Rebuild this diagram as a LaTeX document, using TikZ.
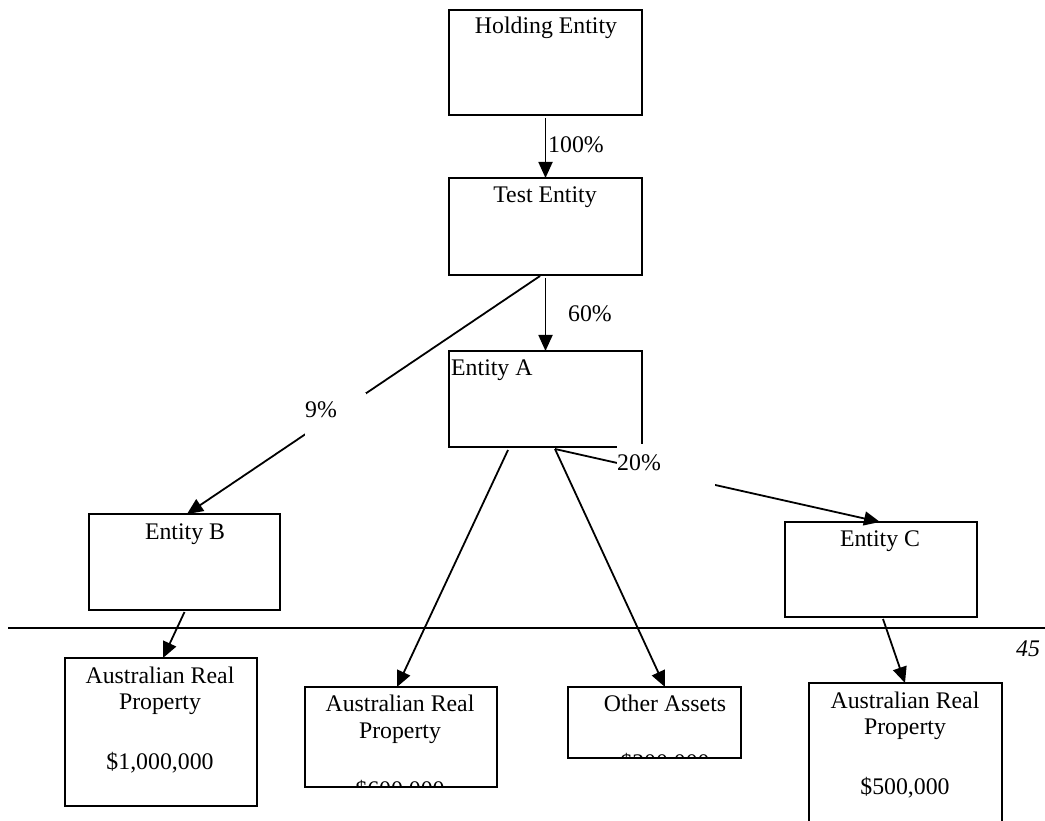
\documentclass[tikz,border=0pt]{standalone}
\usepackage{fontspec}
\setmainfont{Liberation Serif}
\usetikzlibrary{arrows.meta,calc}
\begin{document}
\begin{tikzpicture}[x=1pt,y=-1pt,
  box/.style={draw,line width=1.8pt,inner sep=0pt,outer sep=0pt,anchor=north west},
  txt/.style={font=\fontsize{23.8}{27}\selectfont,inner sep=0pt,anchor=base},
  txtl/.style={txt,anchor=base west},
  arr/.style={line width=1.8pt,-{Triangle[length=16pt,width=14pt]}},
  conn/.style={line width=1.8pt},
  patch/.style={fill=white,inner sep=0pt,outer sep=0pt,anchor=north west}]
\clip (0,0) rectangle (1045,821);
\fill[white] (0,0) rectangle (1045,821);

% page rule
\coordinate (ruleL) at (8,628);
\coordinate (ruleR) at (1046,628);
\draw[conn] (ruleL) -- (ruleR);
\node[txt,font=\fontsize{23.8}{27}\selectfont\itshape] (pg) at (1028,656) {45};

% boxes
\node[box,minimum width=193pt,minimum height=105pt] (hold) at (449,10) {};
\node[box,minimum width=193pt,minimum height=97pt] (test) at (449,178) {};
\node[box,minimum width=193pt,minimum height=96pt] (entA) at (449,351) {};
\node[box,minimum width=191pt,minimum height=96pt] (entB) at (89,514) {};
\node[box,minimum width=192pt,minimum height=95pt] (entC) at (785,522) {};
\node[box,minimum width=192pt,minimum height=148pt] (arp1) at (65,658) {};
\node[box,minimum width=173pt,minimum height=71pt] (other) at (568,687) {};
\node[box,minimum width=192pt,minimum height=100pt] (arp2) at (305,687) {};
\node[box,minimum width=193pt,minimum height=170pt] (arp3) at (809,683) {};

% texts
\node[txt] (tHold) at (546,34) {Holding Entity};
\node[txt] (tTest) at (545,203) {Test Entity};
\node[txtl] (tA) at (451,375) {Entity A};
\node[txt] (tB) at (185,539) {Entity B};
\node[txt] (tC) at (880,546) {Entity C};
\node[txt] (t1a) at (160,683) {Australian Real};
\node[txt] (t1b) at (160,709) {Property};
\node[txt] (t1c) at (160,769) {\$1,000,000};
\begin{scope}
  \clip (arp2.north west) rectangle (arp2.south east);
  \node[txt] (t2a) at (400,711) {Australian Real};
  \node[txt] (t2b) at (400,738) {Property};
  \node[txt] (t2c) at (400,797) {\$600,000};
\end{scope}
\begin{scope}
  \clip (other.north west) rectangle (other.south east);
  \node[txt] (toa) at (665,711) {Other Assets};
  \node[txt] (tob) at (665,770) {\$200,000};
\end{scope}
\node[txt] (t3a) at (905,708) {Australian Real};
\node[txt] (t3b) at (905,734) {Property};
\node[txt] (t3c) at (905,794) {\$500,000};
% redraw clipped boxes' borders on top
\node[box,minimum width=192pt,minimum height=100pt] at (305,687) {};
\node[box,minimum width=173pt,minimum height=71pt] at (568,687) {};

% connectors
\draw[arr] ([yshift=-3pt]hold.south) -- (test.north);
\node[txtl] (l100) at (548,153) {100\%};
\draw[arr] ([yshift=-3pt]test.south) -- (entA.north);
\node[txt] (l60) at (590,322) {60\%};
\draw[arr] ([xshift=-5.5pt,yshift=-1pt]test.south) -- ([xshift=2.5pt]entB.north);
\draw[arr] ([yshift=-2pt]entB.south) -- ([xshift=2pt]arp1.north);
\draw[arr] ([xshift=-37.5pt,yshift=-3pt]entA.south) -- ([xshift=-4pt]arp2.north);
\draw[arr] ([xshift=9.5pt,yshift=-2pt]entA.south) -- ([xshift=10.5pt]other.north);
\draw[arr] ([xshift=9.5pt,yshift=-2pt]entA.south) -- ([xshift=-1pt]entC.north);
\draw[arr] ([xshift=2pt,yshift=-2pt]entC.south) -- ([xshift=-0.5pt]arp3.north);

% white label patches
\node[patch,minimum width=61pt,minimum height=43pt] (p9) at (305,393) {};
\node[txtl] (l9) at (305,417) {9\%};
\node[patch,minimum width=98pt,minimum height=50pt] (p20) at (617,444) {};
\node[txtl] (l20) at (617,470) {20\%};
\end{tikzpicture}
\end{document}
